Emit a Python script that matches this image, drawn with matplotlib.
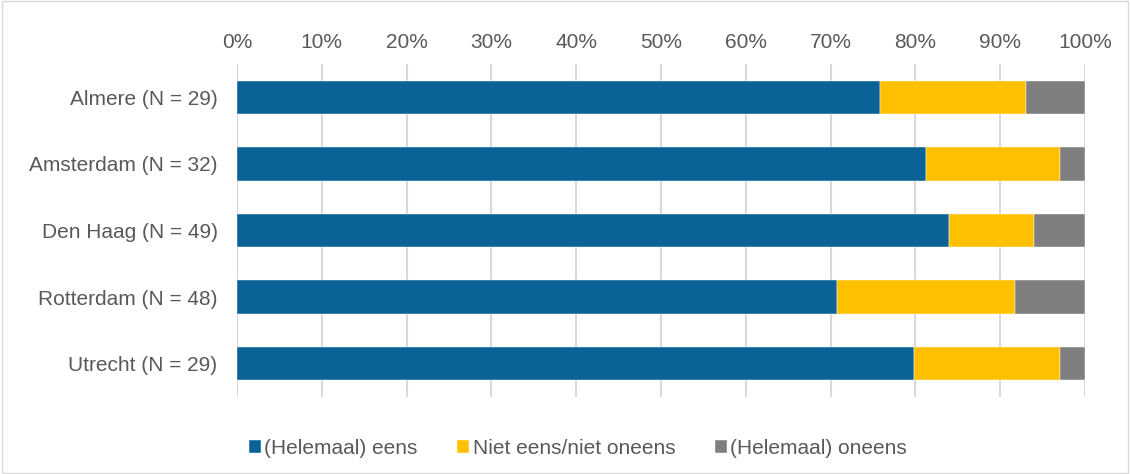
import matplotlib
matplotlib.use("Agg")
import matplotlib.pyplot as plt
from matplotlib.patches import Rectangle
from matplotlib.ticker import FuncFormatter

categories = ["Almere (N = 29)", "Amsterdam (N = 32)", "Den Haag (N = 49)",
              "Rotterdam (N = 48)", "Utrecht (N = 29)"]
eens = [75.8, 81.2, 84.0, 70.8, 79.8]
neutraal = [17.2, 15.9, 10.0, 20.9, 17.3]
oneens = [7.0, 2.9, 6.0, 8.3, 2.9]
series_names = ["(Helemaal) eens", "Niet eens/niet oneens", "(Helemaal) oneens"]
colors = ["#0A6296", "#FFC000", "#7F7F7F"]
xticks = [0, 10, 20, 30, 40, 50, 60, 70, 80, 90, 100]

plt.rcParams['font.family'] = ['Liberation Sans', 'DejaVu Sans']
text_color = "#595959"
fs = 15

fig = plt.figure(figsize=(11.3, 4.74), dpi=100)
ax = fig.add_axes([237/1130, 1 - 397/474, (1085-237)/1130, (397-64)/474])

y = list(range(len(categories)))
left = [0]*len(categories)
for vals, name, c in zip([eens, neutraal, oneens], series_names, colors):
    ax.barh(y, vals, left=left, height=0.5, color=c, label=name,
            edgecolor='white', linewidth=0.3, zorder=3)
    left = [l + v for l, v in zip(left, vals)]

ax.set_xlim(0, 100)
ax.set_ylim(len(categories) - 0.5, -0.5)
ax.set_yticks(y)
ax.set_yticklabels(categories)
ax.set_xticks(xticks)
ax.xaxis.set_major_formatter(FuncFormatter(lambda v, p: f"{int(v)}%"))
ax.xaxis.tick_top()
ax.tick_params(axis='both', length=0, labelsize=fs, colors=text_color)
ax.tick_params(axis='x', pad=9)
ax.tick_params(axis='y', pad=14)
ax.grid(axis='x', color='#D9D9D9', linewidth=1.5, zorder=0)
for s in ax.spines.values():
    s.set_visible(False)

handles, labels = ax.get_legend_handles_labels()
leg = fig.legend(handles, labels, loc='center', bbox_to_anchor=(578/1130, 1 - 448/474),
                 ncol=3, frameon=False, fontsize=fs, handlelength=0.58, handleheight=0.58,
                 handletextpad=0.15, columnspacing=1.9)
for t in leg.get_texts():
    t.set_color(text_color)

fig.patches.append(Rectangle((0.002, 0.002), 0.996, 0.996, transform=fig.transFigure,
                             fill=False, edgecolor='#D9D9D9', linewidth=1))

fig.savefig("out.png", dpi=100, facecolor='white')
